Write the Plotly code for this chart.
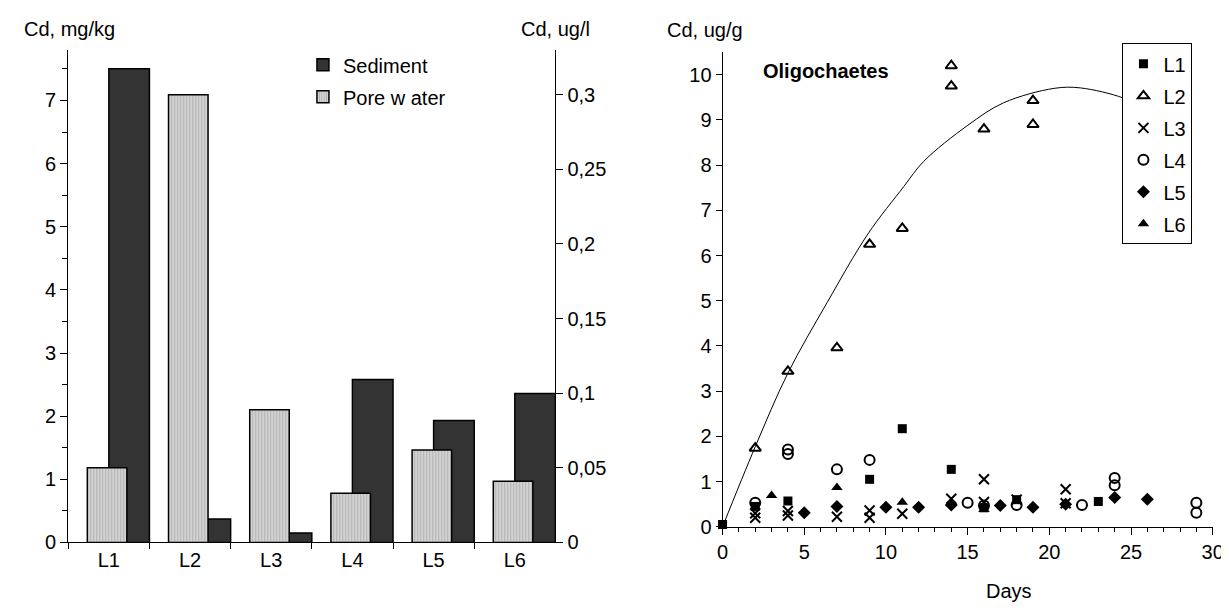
import plotly.graph_objects as go

W, H = 1229, 610

# ---------------- data: left chart ----------------
sites = ["L1", "L2", "L3", "L4", "L5", "L6"]
sediment_mgkg = [7.50, 0.37, 0.15, 2.58, 1.93, 2.36]
porewater_ugl = [0.050, 0.300, 0.089, 0.033, 0.062, 0.041]

# ---------------- data: right chart ----------------
days_L1 = [0, 2, 4, 9, 11, 14, 16, 18, 23]
cd_L1 = [0.05, 0.45, 0.57, 1.05, 2.17, 1.27, 0.42, 0.60, 0.56]

days_L2 = [2, 4, 7, 9, 11, 14, 14, 16, 19, 19]
cd_L2 = [1.74, 3.44, 3.96, 6.25, 6.60, 10.20, 9.75, 8.80, 9.43, 8.90]

days_L3 = [2, 2, 4, 4, 7, 9, 9, 11, 14, 16, 16, 18, 21, 21]
cd_L3 = [0.30, 0.20, 0.35, 0.25, 0.22, 0.36, 0.20, 0.29, 0.62, 1.05, 0.55, 0.60, 0.83, 0.52]

days_L4 = [2, 4, 4, 7, 9, 15, 16, 18, 22, 24, 24, 29, 29]
cd_L4 = [0.53, 1.71, 1.61, 1.27, 1.48, 0.53, 0.47, 0.48, 0.48, 1.08, 0.92, 0.53, 0.31]

days_L5 = [5, 7, 10, 12, 14, 17, 19, 21, 24, 26]
cd_L5 = [0.31, 0.45, 0.43, 0.43, 0.48, 0.47, 0.43, 0.50, 0.65, 0.61]

days_L6 = [3, 7, 11, 14, 16]
cd_L6 = [0.69, 0.87, 0.54, 0.52, 0.38]

# trend curve
fit_days = [0, 2, 4, 6.4, 8.9, 11.1, 12.3, 15, 17.2, 20.3, 21.9, 24.5, 25.5]
fit_cd = [0, 1.77, 3.40, 4.96, 6.48, 7.53, 8.08, 8.88, 9.38, 9.70, 9.71, 9.49, 9.30]

FONT = "Arial, Liberation Sans, sans-serif"
FS = 20

def px_x(p):
    return p / W

def px_y(p):
    return 1 - p / H

fig = go.Figure()

# ---- left chart bars ----
fig.add_trace(go.Bar(
    x=sites, y=sediment_mgkg, name="Sediment", xaxis="x", yaxis="y",
    offset=0.0, width=0.5,
    marker=dict(color="#333333", line=dict(color="black", width=1.5)),
    legend="legend", legendgroup="sed",
))
fig.add_trace(go.Bar(
    x=sites, y=porewater_ugl, name="Pore w ater", xaxis="x", yaxis="y2",
    offset=-0.265, width=0.487,
    marker=dict(color="#c8c8c8", line=dict(color="black", width=1.5),
                pattern=dict(shape="|", fgcolor="#8f8f8f", bgcolor="#d2d2d2",
                             size=3, solidity=0.3)),
    legend="legend", legendgroup="pw",
))

# ---- right chart ----
fig.add_trace(go.Scatter(
    x=fit_days, y=fit_cd, mode="lines", line=dict(color="black", width=1, shape="spline"),
    xaxis="x3", yaxis="y3", showlegend=False, hoverinfo="skip",
))

series = [
    ("L1", days_L1, cd_L1, dict(symbol="square", size=9, color="black")),
    ("L2", days_L2, cd_L2, dict(symbol="triangle-up-open", size=10, color="black",
                                line=dict(width=2, color="black"))),
    ("L3", days_L3, cd_L3, dict(symbol="x-thin-open", size=10, color="black",
                                line=dict(width=2, color="black"))),
    ("L4", days_L4, cd_L4, dict(symbol="circle-open", size=10, color="black",
                                line=dict(width=2, color="black"))),
    ("L5", days_L5, cd_L5, dict(symbol="diamond", size=10, color="black")),
    ("L6", days_L6, cd_L6, dict(symbol="triangle-up", size=10, color="black")),
]
for name, xs, ys, mk in series:
    fig.add_trace(go.Scatter(
        x=xs, y=ys, mode="markers", name=name, marker=mk,
        xaxis="x3", yaxis="y3", legend="legend2", legendgroup=name, cliponaxis=False,
    ))

axis_common = dict(showgrid=False, zeroline=False, showline=True, linecolor="black",
                   linewidth=1, ticks="outside", tickcolor="black",
                   tickfont=dict(family=FONT, size=FS, color="black"))

left_dom_x = [px_x(55), px_x(549)]
left_dom_y = [px_y(544.3), px_y(42.7)]
right_dom_x = [px_x(718.5), px_x(1215.5)]
right_dom_y = [px_y(528.3), px_y(45)]

fig.update_layout(
    width=W, height=H,
    margin=dict(l=0, r=0, t=0, b=0),
    paper_bgcolor="white", plot_bgcolor="rgba(0,0,0,0)",
    separators=", ",
    barmode="overlay",
    font=dict(family=FONT, size=FS, color="black"),
    xaxis=dict(domain=left_dom_x, anchor="y", type="category", range=[-0.5, 5.5],
               tickson="boundaries", ticklen=6, **axis_common),
    yaxis=dict(domain=left_dom_y, anchor="x", range=[0, 7.8], dtick=1, ticklen=7,
               minor=dict(dtick=0.5, ticks="outside", ticklen=5, tickcolor="black"),
               **axis_common),
    yaxis2=dict(overlaying="y", side="right", anchor="x", range=[0, 0.33], dtick=0.05,
                ticklen=7, **axis_common),
    xaxis3=dict(domain=right_dom_x, anchor="y3", range=[0, 30], dtick=5, ticklen=7,
                minor=dict(dtick=1, ticks="outside", ticklen=4, tickcolor="black"),
                **axis_common),
    yaxis3=dict(domain=right_dom_y, anchor="x3", range=[0, 10.5], dtick=1, ticklen=6,
                **axis_common),
    legend=dict(x=px_x(293), y=px_y(38), xanchor="left", yanchor="top",
                bgcolor="rgba(0,0,0,0)", borderwidth=0, tracegroupgap=3,
                font=dict(family=FONT, size=FS, color="black")),
    legend2=dict(x=px_x(1124), y=px_y(36), xanchor="left", yanchor="top",
                 bgcolor="white", bordercolor="black", borderwidth=1, tracegroupgap=3,
                 font=dict(family=FONT, size=FS, color="black")),
    showlegend=True,
    annotations=[
        dict(text="Cd, mg/kg", x=px_x(8), y=px_y(21), xref="paper", yref="paper",
             xanchor="left", yanchor="middle", showarrow=False),
        dict(text="Cd, ug/l", x=px_x(512), y=px_y(21), xref="paper", yref="paper",
             xanchor="left", yanchor="middle", showarrow=False),
        dict(text="Cd, ug/g", x=px_x(660), y=px_y(22), xref="paper", yref="paper",
             xanchor="left", yanchor="middle", showarrow=False),
        dict(text="<b>Oligochaetes</b>", x=px_x(757), y=px_y(64), xref="paper", yref="paper",
             xanchor="left", yanchor="middle", showarrow=False),
        dict(text="Days", x=px_x(1009), y=px_y(594), xref="paper", yref="paper",
             xanchor="center", yanchor="middle", showarrow=False),
    ],
)

fig.write_html("out.html")
